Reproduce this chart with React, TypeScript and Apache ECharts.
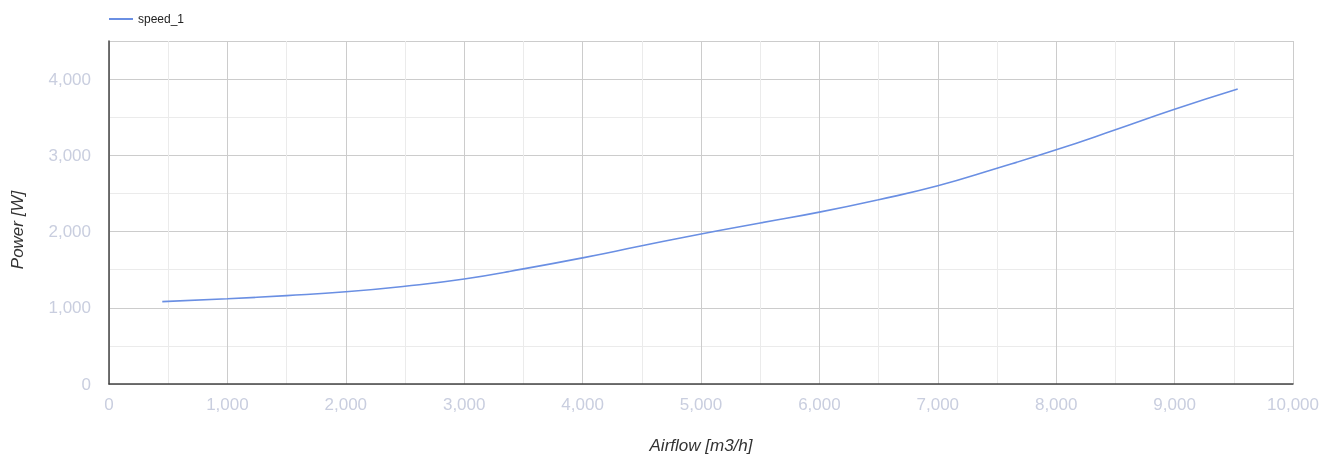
import React, { useEffect, useRef } from "react";
import * as echarts from "echarts";

const airflow = [450, 1000, 1500, 2000, 2500, 3000, 3500, 4000, 4500, 5000, 5500, 6000, 6500, 7000, 7500, 8000, 8500, 9000, 9533];
const power = [1081, 1118, 1160, 1210, 1283, 1378, 1510, 1655, 1813, 1968, 2112, 2255, 2418, 2600, 2830, 3072, 3335, 3604, 3869];
const seriesName = "speed_1";
const xTitle = "Airflow [m3/h]";
const yTitle = "Power [W]";

const fmt = (v: number) => v.toLocaleString("en-US");

export default function App() {
  const ref = useRef<HTMLDivElement>(null);
  useEffect(() => {
    if (!ref.current) return;
    const chart = echarts.init(ref.current, null, { renderer: "svg" });
    const font = "Arial, 'Liberation Sans', sans-serif";
    chart.setOption({
      animation: false,
      textStyle: { fontFamily: font },
      legend: {
        left: 104,
        top: 8,
        itemWidth: 24,
        itemHeight: 14,
        itemGap: 5,
        icon: "path://M0,6 L24,6 L24,8 L0,8 Z",
        textStyle: { fontSize: 12, color: "#222", fontFamily: font },
        data: [seriesName],
      },
      grid: { left: 109, right: 43, top: 41, bottom: 74 },
      xAxis: {
        type: "value",
        min: 0,
        max: 10000,
        interval: 1000,
        name: xTitle,
        nameLocation: "middle",
        nameGap: 53,
        nameTextStyle: { fontSize: 17, fontStyle: "italic", color: "#333", fontFamily: font },
        axisLine: { show: true, onZero: false, lineStyle: { color: "#444", width: 1.5 } },
        axisTick: { show: false },
        axisLabel: { formatter: fmt, fontSize: 17, color: "#c9cedf", margin: 12, fontFamily: font },
        splitLine: { show: true, lineStyle: { color: "#cccccc", width: 1 } },
        minorTick: { show: false, splitNumber: 2 },
        minorSplitLine: { show: true, lineStyle: { color: "#ebebeb", width: 1 } },
      },
      yAxis: {
        type: "value",
        min: 0,
        max: 4500,
        interval: 1000,
        axisLine: { show: true, onZero: false, lineStyle: { color: "#444", width: 1.5 } },
        axisTick: { show: false },
        axisLabel: {
          formatter: (v: number) => (v % 1000 === 0 ? fmt(v) : ""),
          fontSize: 17,
          color: "#c9cedf",
          margin: 18,
          fontFamily: font,
        },
        splitLine: { show: true, lineStyle: { color: "#cccccc", width: 1 } },
        minorTick: { show: false, splitNumber: 2 },
        minorSplitLine: { show: true, lineStyle: { color: "#ebebeb", width: 1 } },
      },
      graphic: [
        {
          type: "text",
          x: 17,
          y: 230,
          rotation: Math.PI / 2,
          style: {
            text: yTitle,
            fontSize: 17,
            fontStyle: "italic",
            fill: "#333",
            fontFamily: font,
            align: "center",
            verticalAlign: "middle",
          },
        },
      ],
      series: [
        {
          name: seriesName,
          type: "line",
          smooth: 0.5,
          showSymbol: false,
          symbol: "none",
          data: airflow.map((x, i) => [x, power[i]]),
          lineStyle: { color: "#6a8fe3", width: 1.6 },
          itemStyle: { color: "#6a8fe3" },
        },
      ],
    });
    return () => chart.dispose();
  }, []);
  return <div ref={ref} style={{ position: "fixed", left: 0, top: 0, width: 1336, height: 459 }} />;
}
